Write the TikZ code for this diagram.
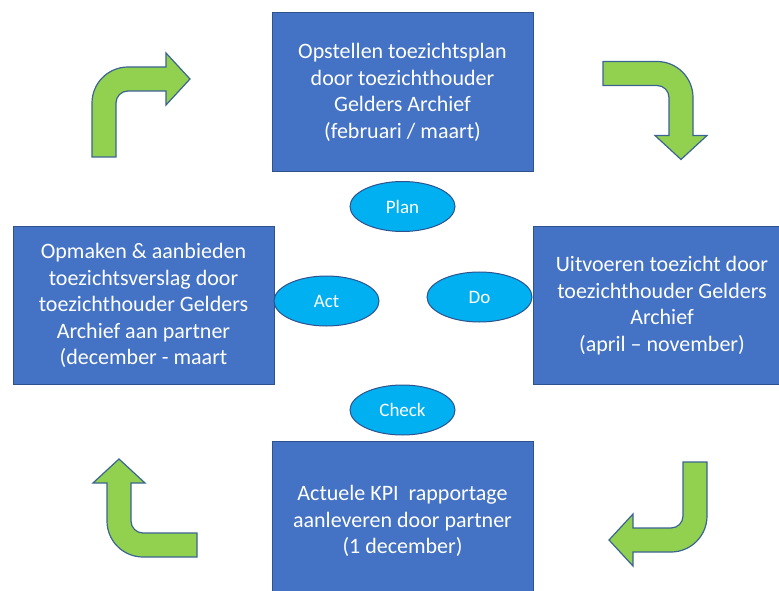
\documentclass[tikz,border=0pt]{standalone}
\usepackage{fontspec}
\setmainfont{Carlito}
\usetikzlibrary{shapes.geometric}
\definecolor{boxblue}{HTML}{4472C4}
\definecolor{boxedge}{HTML}{2F528F}
\definecolor{ellblue}{HTML}{00B0F0}
\definecolor{arrgreen}{HTML}{92D050}
\definecolor{arredge}{HTML}{3A6491}
\begin{document}
\begin{tikzpicture}[x=1pt,y=1pt,
  stagebox/.style={rectangle, draw=boxedge, line width=1pt, fill=boxblue, text=white,
    align=center, font=\fontsize{22}{26.5}\selectfont, inner sep=0pt},
  phase/.style={ellipse, draw=boxedge, line width=1pt, fill=ellblue, text=white,
    font=\fontsize{19}{22}\selectfont, minimum width=105pt, minimum height=50pt, inner sep=0pt},
  bent/.pic={
    \path[draw=arredge, fill=arrgreen, line width=1.2pt, line join=miter]
      (-12,0) -- (-12,54) .. controls (-12,73.88) and (4.12,90) .. (24,90)
      -- (62,90) -- (62,104) -- (86,78) -- (62,52) -- (62,66) -- (24,66)
      .. controls (17.37,66) and (12,60.63) .. (12,54) -- (12,0) -- cycle;
  }]
\clip (0,0) rectangle (779,590);

% stage boxes
\node[stagebox, minimum width=261pt, minimum height=159pt] (planbox) at (402.5,497.5)
  {Opstellen toezichtsplan\\door toezichthouder\\Gelders Archief\\(februari / maart)};
\node[stagebox, minimum width=261pt, minimum height=157pt] (actbox) at (143.5,284.5)
  {Opmaken \& aanbieden\\toezichtsverslag door\\toezichthouder Gelders\\Archief aan partner\\(december - maart};
\node[stagebox, minimum width=258pt, minimum height=157pt] (dobox) at (662,284.5)
  {Uitvoeren toezicht door\\toezichthouder Gelders\\Archief\\(april – november)};
\node[stagebox, minimum width=261pt, minimum height=159pt] (checkbox) at (402.5,69)
  {Actuele KPI\ \ rapportage\\aanleveren door partner\\(1 december)};

% phase ellipses
\node[phase] (plan) at (402.5,383.5) {Plan};
\node[phase] (act) at (326.5,289) {Act};
\node[phase] (do) at (479.5,293) {Do};
\node[phase] (check) at (402.5,180) {Check};

% bent arrows
\pic at (104,433) {bent};
\pic[rotate=-90] at (603,516.5) {bent};
\pic[rotate=180] at (695,128) {bent};
\pic[rotate=90] at (197,45) {bent};
\end{tikzpicture}
\end{document}
